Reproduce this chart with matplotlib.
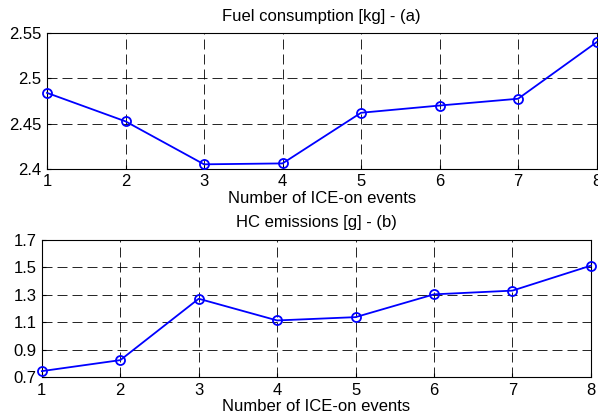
import numpy as np
from matplotlib import pyplot as plt

plt.rcParams['font.family'] = ['Liberation Sans', 'DejaVu Sans']
plt.rcParams['font.size'] = 12

events = [1, 2, 3, 4, 5, 6, 7, 8]
fuel = [2.484, 2.4525, 2.405, 2.406, 2.462, 2.470, 2.4775, 2.540]
hc = [0.744, 0.824, 1.271, 1.113, 1.137, 1.303, 1.330, 1.512]

fig = plt.figure(figsize=(5.98, 4.2), dpi=100)

ax1 = fig.add_axes([0.0786, 0.598, 0.919, 0.323])
ax1.plot(events, fuel, '-o', color='#0000ff', lw=1.3, markersize=6.5,
         markerfacecolor='none', markeredgewidth=1.3, clip_on=False, zorder=3)
ax1.set_xlim(1, 8); ax1.set_ylim(2.4, 2.55)
ax1.set_yticks([2.4, 2.45, 2.5, 2.55])
ax1.set_yticklabels(['2.4', '2.45', '2.5', '2.55'])
ax1.set_title('Fuel consumption [kg] - (a)', fontsize=12, pad=9)
ax1.set_xlabel('Number of ICE-on events', labelpad=1)

ax2 = fig.add_axes([0.070, 0.102, 0.918, 0.327])
ax2.plot(events, hc, '-o', color='#0000ff', lw=1.3, markersize=6.5,
         markerfacecolor='none', markeredgewidth=1.3, clip_on=False, zorder=3)
ax2.set_xlim(1, 8); ax2.set_ylim(0.7, 1.7)
ax2.set_yticks([0.7, 0.9, 1.1, 1.3, 1.5, 1.7])
ax2.set_title('HC emissions [g] - (b)', fontsize=12, pad=9)
ax2.set_xlabel('Number of ICE-on events', labelpad=1)

for ax in (ax1, ax2):
  ax.set_xticks(events)
  ax.grid(True, color='black', linestyle=(0, (12, 6)), linewidth=0.6)
  ax.tick_params(direction='in', length=3, pad=4, labelsize=12)
  for s in ax.spines.values():
    s.set_linewidth(0.8)

fig.savefig('out.png', dpi=100)
